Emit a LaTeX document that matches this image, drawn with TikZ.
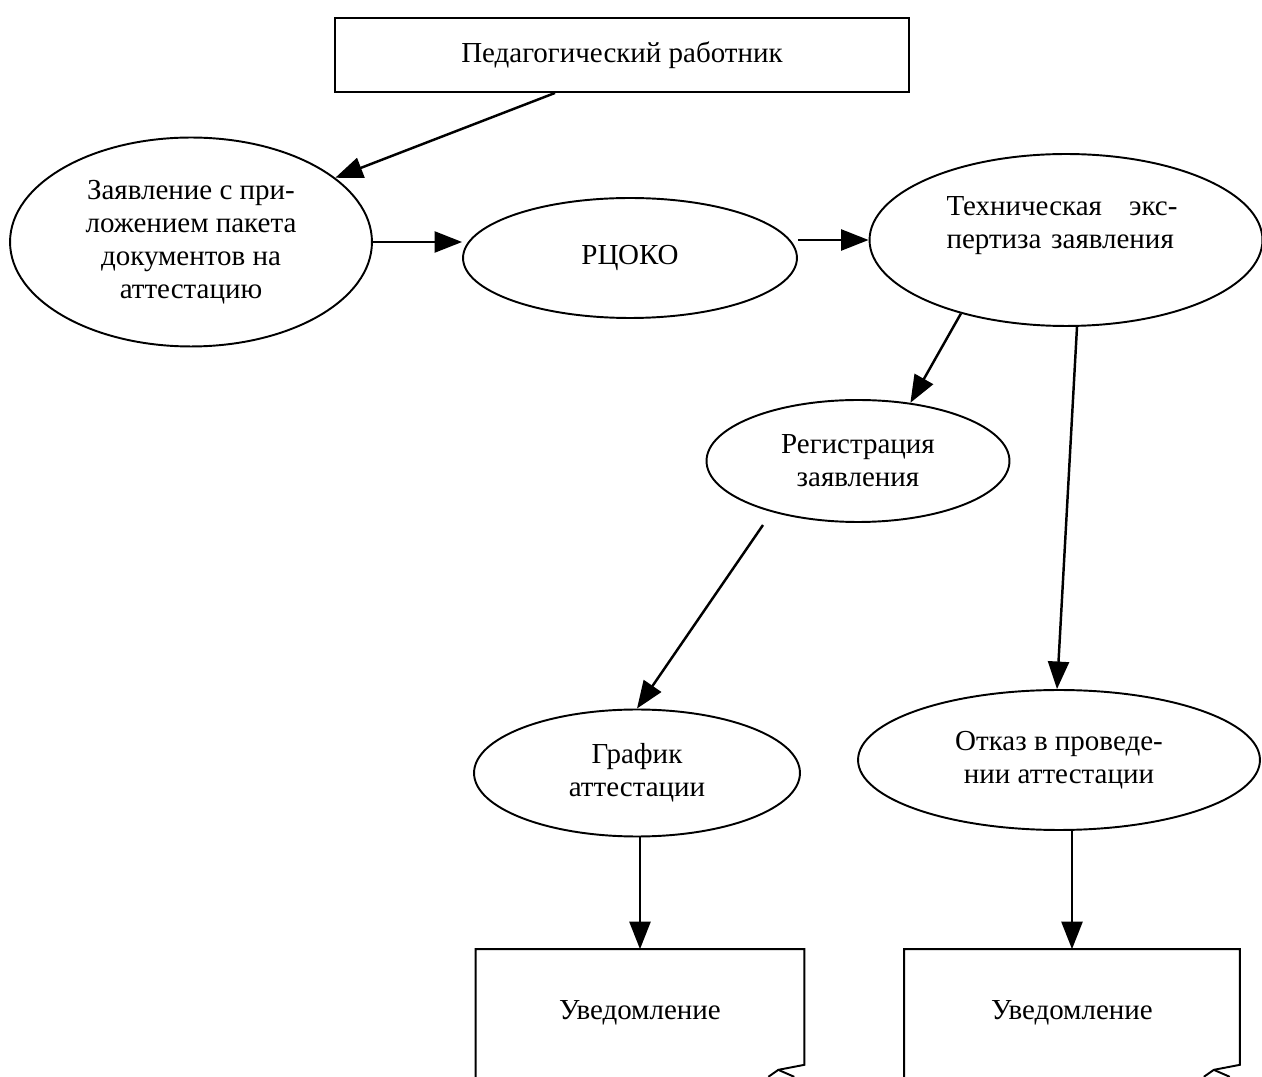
\documentclass[tikz,border=0pt]{standalone}
\usepackage{fontspec}
\setmainfont{Liberation Serif}
\usetikzlibrary{shapes.geometric,arrows.meta,calc}

\begin{document}
\begin{tikzpicture}[x=0.02cm, y=-0.02cm,
    every node/.style={font=\fontsize{16.5}{18.7}\selectfont, align=center},
    oval/.style={draw, ellipse, line width=1.1pt, inner sep=0pt},
    box/.style={draw, rectangle, line width=1.1pt},
    docbox/.style={rectangle, draw=none},
    flow/.style={line width=1.4pt, -{Triangle[length=0.55cm, width=0.42cm]}},
    edge/.style={line width=1.1pt}]
  % Frame
  \useasboundingbox (0,0) rectangle (1262,1077);

  % Top box
  \node[box, minimum width=11.5cm, minimum height=1.48cm] (ped) at (622,55) {Педагогический работник};

  % Ellipses
  \node[oval, minimum width=7.24cm, minimum height=4.18cm] (zayav) at (191,242)
    {Заявление с при-\\ложением пакета\\документов на\\аттестацию};
  \node[oval, minimum width=6.68cm, minimum height=2.4cm] (rcoko) at (630,258) {РЦОКО};
  \node[oval, minimum width=7.86cm, minimum height=3.44cm] (tech) at (1066,240) {};
  \node[text width=4.62cm, align=left] (techtext) at (1062,226)
    {Техническая\hfill экс-\\пертиза заявления};
  \node[oval, minimum width=6.06cm, minimum height=2.44cm] (reg) at (858,461)
    {Регистрация\\заявления};
  \node[oval, minimum width=6.52cm, minimum height=2.54cm] (graf) at (637,773)
    {График\\аттестации};
  \node[oval, minimum width=8.04cm, minimum height=2.8cm] (otkaz) at (1059,760)
    {Отказ в проведе-\\нии аттестации};

  % Documents
  \node[docbox, minimum width=6.56cm, minimum height=2.54cm] (doc1) at (640,1013) {Уведомление};
  \node[docbox, minimum width=6.7cm, minimum height=2.54cm] (doc2) at (1072,1013) {Уведомление};
  \foreach \d in {doc1,doc2} {
    \draw[edge] (\d.south west) -- (\d.north west) -- (\d.north east)
      -- ($(\d.south east)+(0,-12)$) -- ($(\d.south east)+(-26,-7)$) -- ($(\d.south east)+(-36,0)$);
    \draw[edge] ($(\d.south east)+(-26,-7)$) -- ($(\d.south east)+(-10,0)$);
  }

  % Arrows
  \draw[flow] ($(ped.south)+(-67,0)$) -- (zayav.24);
  \draw[flow] (zayav.east) -- (zayav.east -| rcoko.west);
  \draw[flow] (tech.west -| rcoko.east) -- (tech.west);
  \draw[flow] (tech.215) -- (reg.48);
  \draw[flow] ($(tech.south)+(11,0)$) -- ($(otkaz.north)+(-2,0)$);
  \draw[flow] ($(reg.center)+(-95,64)$) -- (graf.north);
  \draw[flow] (graf.south -| doc1.north) -- (doc1.north);
  \draw[flow] (otkaz.south -| doc2.north) -- (doc2.north);
\end{tikzpicture}
\end{document}
